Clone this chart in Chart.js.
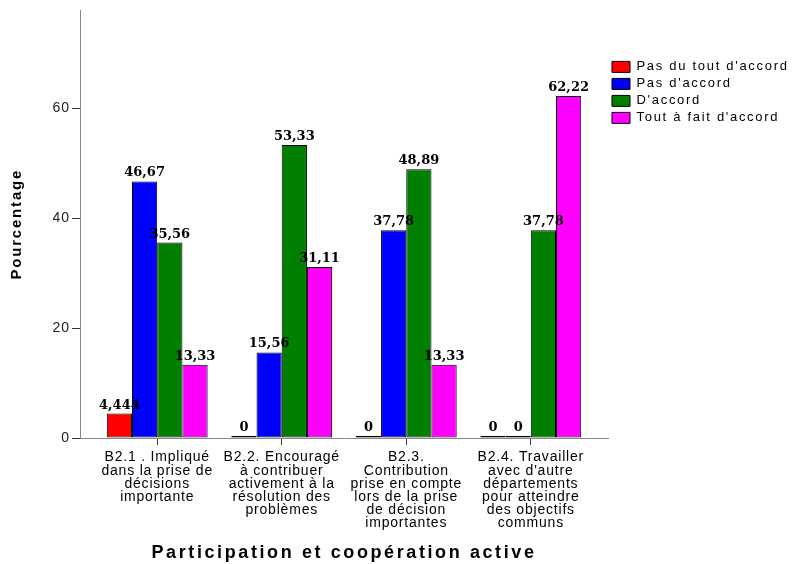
<!DOCTYPE html>
<html>
<head>
<meta charset="utf-8">
<script src="https://cdn.jsdelivr.net/npm/chart.js@4.4.1/dist/chart.umd.min.js"></script>
<style>
  html, body { margin: 0; padding: 0; background: #fff; }
  canvas { display: block; }
</style>
</head>
<body>
<canvas id="chart" width="792" height="564"></canvas>
<script>
// Participation et coopération active - percentages per answer
const categories = [
    ['B2.1 . Impliqué', 'dans la prise de', 'décisions', 'importante'],
    ['B2.2. Encouragé', 'à contribuer', 'activement à la', 'résolution des', 'problèmes'],
    ['B2.3.', 'Contribution', 'prise en compte', 'lors de la prise', 'de décision', 'importantes'],
    ['B2.4. Travailler', "avec d'autre", 'départements', 'pour atteindre', 'des objectifs', 'communs']
];
const seriesNames = ["Pas du tout d'accord", "Pas d'accord", "D'accord", "Tout à fait d'accord"];
const pasDuToutDaccord = [4.444, 0, 0, 0];
const pasDaccord = [46.67, 15.56, 37.78, 0];
const daccord = [35.56, 53.33, 48.89, 37.78];
const toutAFaitDaccord = [13.33, 31.11, 13.33, 62.22];
const yTicks = [0, 20, 40, 60];
const seriesColors = ['#ff0000', '#0000ff', '#007f00', '#ff00ff'];

const seriesValues = [pasDuToutDaccord, pasDaccord, daccord, toutAFaitDaccord];
const sans = '"Liberation Sans", Arial, sans-serif';

// SPSS output has wide letter spacing, canvas can do that per draw call
function withSpacing(obj, method, spacing) {
    const original = obj[method];
    obj[method] = function(...args) {
        const ctx = this.ctx;
        const prev = ctx.letterSpacing;
        ctx.letterSpacing = spacing;
        const res = original.apply(this, args);
        ctx.letterSpacing = prev;
        return res;
    };
}

const textSpacing = {
    id: 'textSpacing',
    beforeLayout(chart) {
        if (chart.$spaced) return;
        chart.$spaced = true;
        withSpacing(chart.scales.x, 'drawLabels', '0.8px');
        withSpacing(chart.scales.x, 'drawTitle', '2.6px');
        withSpacing(chart.scales.y, 'drawLabels', '1px');
        withSpacing(chart.scales.y, 'drawTitle', '1.8px');
        const legend = chart.legend;
        const fit = legend.fit;
        legend.fit = function() {
            fit.call(this);
            this.width = 184;
        };
        withSpacing(legend, 'draw', '1.7px');
    }
};

const valueLabels = {
    id: 'valueLabels',
    afterDatasetsDraw(chart) {
        const ctx = chart.ctx;
        ctx.save();
        ctx.letterSpacing = '0px';
        ctx.font = 'bold 13px "DejaVu Serif"';
        ctx.fillStyle = '#000';
        ctx.textAlign = 'center';
        ctx.textBaseline = 'alphabetic';
        chart.data.datasets.forEach((ds, i) => {
            chart.getDatasetMeta(i).data.forEach((bar, j) => {
                const text = String(ds.data[j].y).replace('.', ',');
                ctx.fillText(text, bar.x, bar.y - 5);
            });
        });
        ctx.restore();
    }
};

new Chart(document.getElementById('chart'), {
    type: 'bar',
    data: {
        datasets: seriesNames.map((name, i) => ({
            label: name,
            data: seriesValues[i].map((v, j) => ({ x: j, y: v })),
            backgroundColor: seriesColors[i],
            borderColor: '#000',
            borderWidth: 1,
            borderSkipped: false,
            minBarLength: 2,
            categoryPercentage: 0.81,
            barPercentage: 1
        }))
    },
    options: {
        responsive: false,
        animation: false,
        layout: { padding: { top: 9, left: 0, right: 0, bottom: 0 } },
        scales: {
            x: {
                type: 'linear',
                offset: false,
                min: -0.62,
                max: 3.62,
                afterBuildTicks: scale => {
                    scale.ticks = categories.map((c, i) => ({ value: i }));
                },
                afterFit: scale => { scale.height = 126; },
                ticks: {
                    callback: value => categories[value],
                    autoSkip: false,
                    maxRotation: 0,
                    color: '#000',
                    padding: 6,
                    font: { family: sans, size: 14, lineHeight: 0.94 }
                },
                grid: { offset: false, drawOnChartArea: false, tickLength: 7, color: '#333' },
                border: { color: '#888' },
                title: {
                    display: true,
                    text: 'Participation et coopération active',
                    color: '#000',
                    padding: { top: 0, bottom: 0 },
                    font: { family: sans, size: 18, weight: 'bold' }
                }
            },
            y: {
                min: 0,
                max: 77.8,
                afterBuildTicks: scale => {
                    scale.ticks = yTicks.map(v => ({ value: v }));
                },
                afterFit: scale => { scale.width = 80; },
                ticks: {
                    color: '#222',
                    padding: 2,
                    font: { family: sans, size: 14 }
                },
                grid: { drawOnChartArea: false, tickLength: 8, color: '#333' },
                border: { color: '#888' },
                title: {
                    display: true,
                    text: 'Pourcentage',
                    color: '#000',
                    padding: { top: 8, bottom: 0 },
                    font: { family: sans, size: 15, weight: 'bold' }
                }
            }
        },
        plugins: {
            tooltip: { enabled: false },
            legend: {
                position: 'right',
                align: 'start',
                title: { display: true, text: ' ', padding: { top: 33, bottom: 0 }, font: { size: 12 } },
                labels: {
                    boxWidth: 18,
                    boxHeight: 11,
                    padding: 4,
                    color: '#000',
                    font: { family: sans, size: 13 }
                }
            }
        }
    },
    plugins: [textSpacing, valueLabels]
});
</script>
</body>
</html>
